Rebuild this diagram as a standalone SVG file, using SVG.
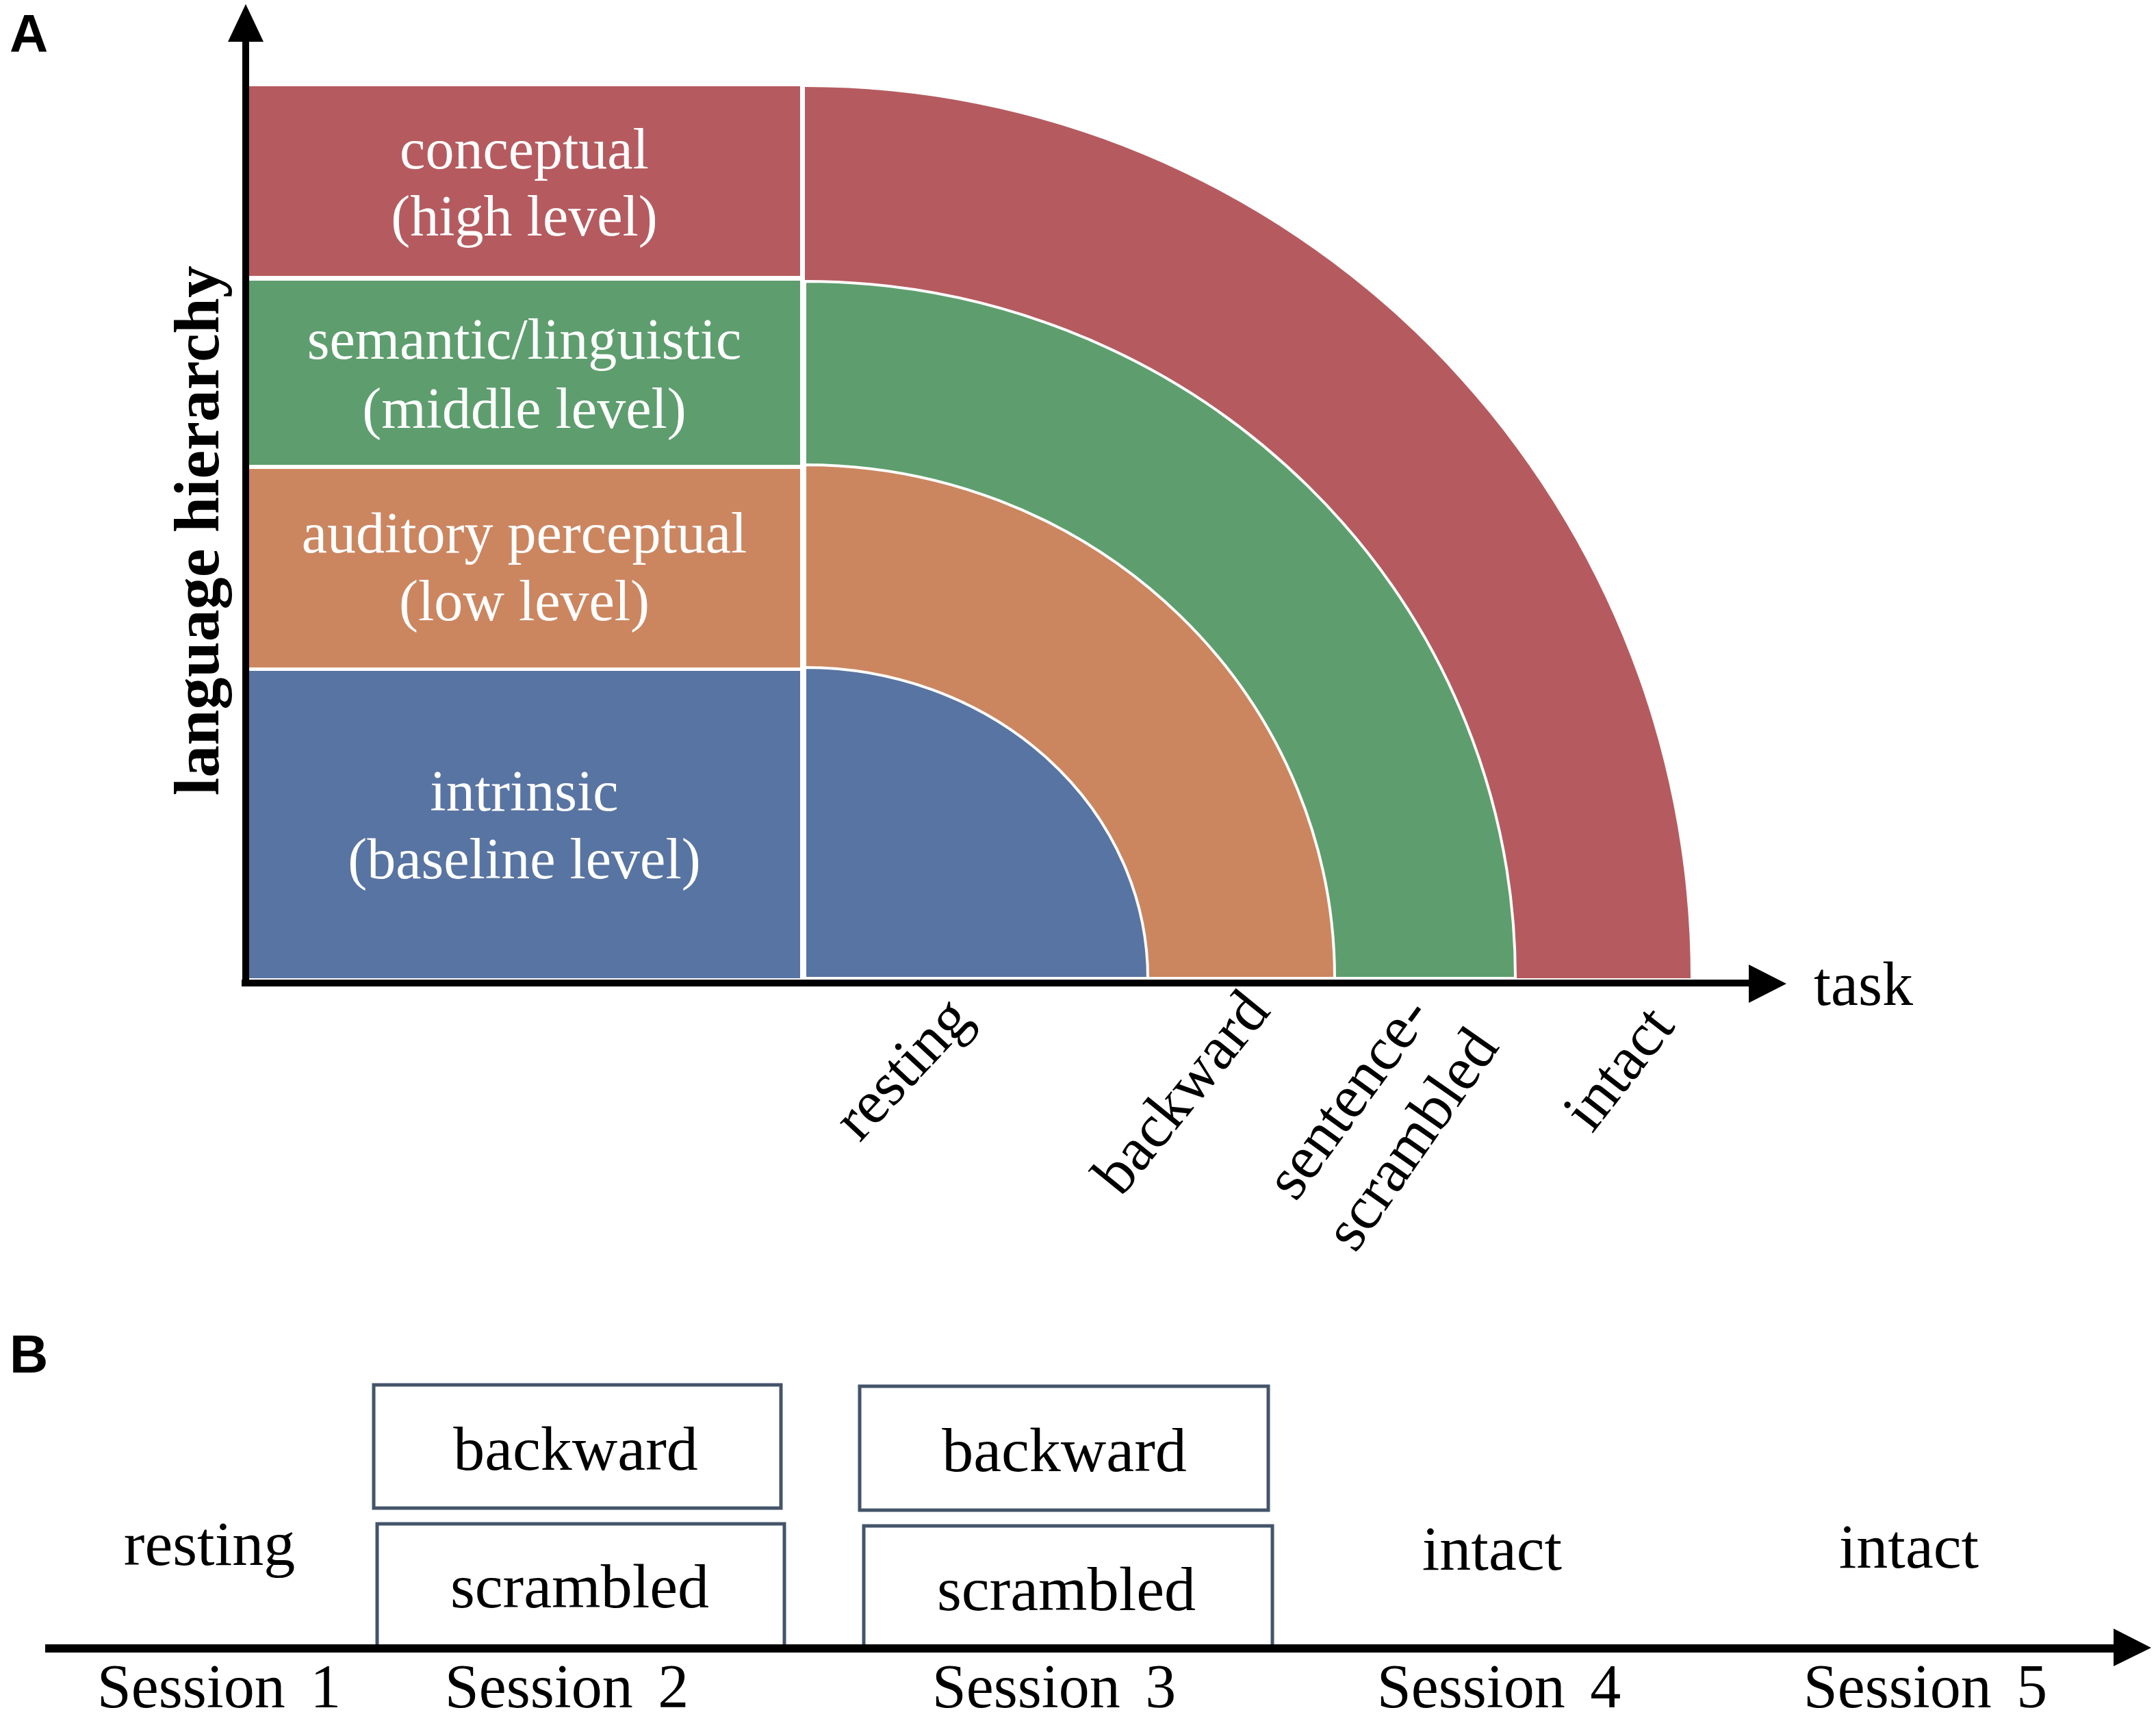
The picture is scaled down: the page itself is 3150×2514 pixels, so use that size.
<svg xmlns="http://www.w3.org/2000/svg" width="3150" height="2514" viewBox="0 0 3150 2514">
<style>
.lbl{font-family:"Liberation Serif","Times New Roman",serif;}
.wt{fill:#ffffff;font-size:84px;text-anchor:middle;}
.bk{fill:#000000;font-size:90px;}
.bkm{fill:#000000;font-size:92px;text-anchor:middle;}
.ses{fill:#000000;font-size:90px;text-anchor:middle;}
.panel{font-family:"Liberation Sans",Arial,sans-serif;font-weight:bold;font-size:78px;fill:#000;}
.box{fill:none;stroke:#44546A;stroke-width:5;}
.axis{stroke:#000;fill:none;}
.red{fill:#B55B5F;}
.green{fill:#5E9E6E;}
.orange{fill:#CB8660;}
.blue{fill:#5874A2;}
.sep{stroke:#ffffff;stroke-width:4;}
</style>
<rect x="0" y="0" width="3150" height="2514" fill="#ffffff"/>

<text class="panel" x="14" y="76">A</text>
<text class="panel" x="14" y="2005">B</text>

<!-- Panel A levels -->
<g id="arc-conceptual">
<path class="red" d="M1176 1429 L1176 127 A1294 1302 0 0 1 2470 1429 Z"/>
</g>
<g id="arc-semantic">
<path class="green sep" d="M1176 1429 L1176 411 A1038 1018 0 0 1 2214 1429 Z"/>
</g>
<g id="arc-auditory">
<path class="orange sep" d="M1176 1429 L1176 679 A774 750 0 0 1 1950 1429 Z"/>
</g>
<g id="arc-intrinsic">
<path class="blue sep" d="M1176 1429 L1176 975 A501 454 0 0 1 1677 1429 Z"/>
</g>

<g id="node-conceptual">
<rect class="red" x="364" y="126" width="805" height="277"/>
<text class="lbl wt" x="766" y="246">conceptual</text>
<text class="lbl wt" x="766" y="344">(high level)</text>
</g>
<g id="node-semantic">
<rect class="green" x="364" y="410" width="805" height="269"/>
<text class="lbl wt" x="766" y="524">semantic/linguistic</text>
<text class="lbl wt" x="766" y="625">(middle level)</text>
</g>
<g id="node-auditory">
<rect class="orange" x="364" y="685" width="805" height="290"/>
<text class="lbl wt" x="766" y="807">auditory perceptual</text>
<text class="lbl wt" x="766" y="906">(low level)</text>
</g>
<g id="node-intrinsic">
<rect class="blue" x="364" y="980" width="805" height="449"/>
<text class="lbl wt" x="766" y="1184">intrinsic</text>
<text class="lbl wt" x="766" y="1283">(baseline level)</text>
</g>

<!-- Axes -->
<g id="connectors">
<line class="axis" x1="359" y1="1441" x2="359" y2="55" stroke-width="10"/>
<polygon points="333,61 359,6 385,61" fill="#000"/>
<line class="axis" x1="353" y1="1436" x2="2560" y2="1436" stroke-width="10"/>
<polygon points="2555,1409 2610,1437 2555,1465" fill="#000"/>
</g>

<g id="axis-labels">
<text class="lbl" font-weight="bold" font-size="94" fill="#000" text-anchor="middle" transform="translate(319,775) rotate(-90)">language hierarchy</text>
<text class="lbl bk" x="2650" y="1468">task</text>
<text class="lbl bk" transform="translate(1256,1670) rotate(-47)">resting</text>
<text class="lbl bk" transform="translate(1638,1750) rotate(-51)">backward</text>
<text class="lbl bk" transform="translate(1893,1757) rotate(-54)">sentence-</text>
<text class="lbl bk" transform="translate(1980,1832) rotate(-55)">scrambled</text>
<text class="lbl bk" transform="translate(2326,1657) rotate(-52)">intact</text>
</g>

<!-- Panel B -->
<g id="node-s2-backward">
<rect class="box" x="546" y="2023" width="595" height="180"/>
<text class="lbl bkm" x="841" y="2147">backward</text>
</g>
<g id="node-s2-scrambled">
<rect class="box" x="551" y="2226" width="595" height="182"/>
<text class="lbl bkm" x="847" y="2348">scrambled</text>
</g>
<g id="node-s3-backward">
<rect class="box" x="1256" y="2025" width="597" height="181"/>
<text class="lbl bkm" x="1555" y="2149">backward</text>
</g>
<g id="node-s3-scrambled">
<rect class="box" x="1262" y="2229" width="597" height="180"/>
<text class="lbl bkm" x="1558" y="2352">scrambled</text>
</g>
<g id="node-s1">
<text class="lbl bkm" x="306" y="2286">resting</text>
</g>
<g id="node-s4">
<text class="lbl bkm" x="2180" y="2293">intact</text>
</g>
<g id="node-s5">
<text class="lbl bkm" x="2789" y="2290">intact</text>
</g>

<g id="timeline">
<line class="axis" x1="66" y1="2408" x2="3092" y2="2408" stroke-width="12"/>
<polygon points="3088,2379 3143,2407 3088,2434" fill="#000"/>
</g>

<g id="session-labels">
<text class="lbl ses" x="320" y="2494" word-spacing="14">Session 1</text>
<text class="lbl ses" x="828" y="2494" word-spacing="14">Session 2</text>
<text class="lbl ses" x="1540" y="2494" word-spacing="14">Session 3</text>
<text class="lbl ses" x="2190" y="2494" word-spacing="14">Session 4</text>
<text class="lbl ses" x="2813" y="2494" word-spacing="14">Session 5</text>
</g>
</svg>
